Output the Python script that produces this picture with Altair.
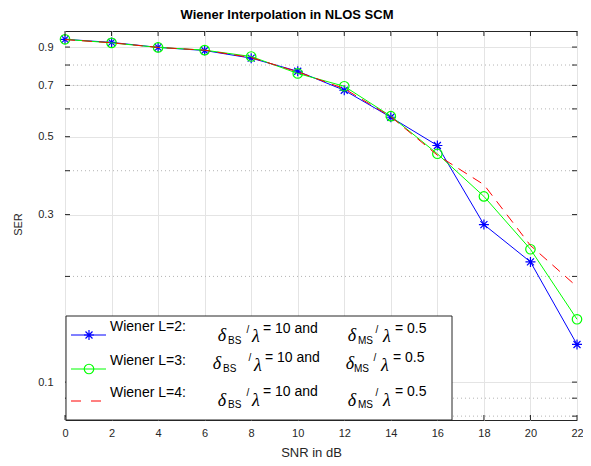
import altair as alt
import pandas as pd

# ---------------- data ----------------
snr = [0, 2, 4, 6, 8, 10, 12, 14, 16, 18, 20, 22]
ser_l2 = [0.947, 0.928, 0.898, 0.880, 0.837, 0.768, 0.678, 0.568, 0.472, 0.281, 0.220, 0.128]
ser_l3 = [0.947, 0.925, 0.898, 0.882, 0.846, 0.757, 0.696, 0.572, 0.447, 0.338, 0.239, 0.151]
ser_l4 = [0.945, 0.926, 0.898, 0.882, 0.840, 0.765, 0.685, 0.570, 0.443, 0.365, 0.245, 0.187]

x_ticks = [0, 2, 4, 6, 8, 10, 12, 14, 16, 18, 20, 22]
y_ticks = [0.1, 0.3, 0.5, 0.7, 0.9]
y_minor_grid = [0.08, 0.09, 0.2, 0.4, 0.6, 0.7, 0.8]
y_tick_marks = [0.08, 0.09, 0.1, 0.2, 0.3, 0.4, 0.5, 0.6, 0.7, 0.8, 0.9]

series_names = ["Wiener L=2:", "Wiener L=3:", "Wiener L=4:"]
title_text = "Wiener Interpolation in NLOS SCM"
x_title = "SNR in dB"
y_title = "SER"

# ---------------- layout ----------------
W, H = 512, 389          # plot area
X0, Y0 = 65, 31          # page position of plot area (incl. 8px page margin)
FONT = "Liberation Sans"
SERIF = "Liberation Serif"
AX = "#262626"

def px(x):
    return x - X0

def py(y):
    return y - Y0

xscale = alt.Scale(domain=[0, 22], nice=False, zero=False)
yscale = alt.Scale(type="log", domain=[0.078, 1.0], nice=False)

xaxis = alt.Axis(values=x_ticks, format="d", grid=True, gridColor="#e4e4e4", gridWidth=1,
                 ticks=False, domain=False, labelFont=FONT, labelFontSize=11, labelColor=AX,
                 labelPadding=7, labelFlush=False, title=x_title, titleFont=FONT,
                 titleFontSize=13, titleFontWeight="normal", titleColor=AX,
                 titleX=246, titleY=32, titleBaseline="middle", titleAlign="center")
yaxis = alt.Axis(values=y_ticks, format=".1f", grid=True, gridColor="#e4e4e4", gridWidth=1,
                 ticks=False, domain=False, labelFont=FONT, labelFontSize=11, labelColor=AX,
                 labelPadding=12, title=y_title, titleFont=FONT, titleFontSize=11,
                 titleFontWeight="normal", titleColor=AX, titleX=-47, titleY=193,
                 titleAngle=270, titleBaseline="middle", titleAlign="center")

def X(field="x"):
    return alt.X(f"{field}:Q", scale=xscale, axis=xaxis)

def Y(field="y"):
    return alt.Y(f"{field}:Q", scale=yscale, axis=yaxis)

STAR = "M0,-1L0,1M-1,0L1,0M-0.7,-0.7L0.7,0.7M-0.7,0.7L0.7,-0.7"

df2 = pd.DataFrame({"x": snr, "y": ser_l2})
df3 = pd.DataFrame({"x": snr, "y": ser_l3})
df4 = pd.DataFrame({"x": snr, "y": ser_l4})
one = pd.DataFrame({"a": [0]})

layers = []

# minor dotted grid
layers.append(
    alt.Chart(pd.DataFrame({"y": y_minor_grid})).mark_rule(
        color="#b4b4b4", strokeWidth=1, strokeDash=[1, 3]
    ).encode(y=Y(), x=alt.value(0), x2=alt.value(W))
)

# data series
layers.append(alt.Chart(df2).mark_line(color="#0000ff", strokeWidth=1).encode(x=X(), y=Y()))
layers.append(alt.Chart(df2).mark_point(shape=STAR, filled=False, size=100, strokeWidth=1.2,
                                        color="#0000ff", opacity=1).encode(x=X(), y=Y()))
layers.append(alt.Chart(df3).mark_line(color="#00ff00", strokeWidth=1).encode(x=X(), y=Y()))
layers.append(alt.Chart(df3).mark_point(shape="circle", filled=False, size=90, strokeWidth=1.2,
                                        color="#00ff00", opacity=1).encode(x=X(), y=Y()))
layers.append(alt.Chart(df4).mark_line(color="#ff0000", strokeWidth=1, strokeDash=[10, 7]).encode(x=X(), y=Y()))

# inward ticks on all four sides
layers.append(alt.Chart(pd.DataFrame({"x": x_ticks})).mark_rule(color=AX, strokeWidth=1)
              .encode(x=X(), y=alt.value(0), y2=alt.value(5)))
layers.append(alt.Chart(pd.DataFrame({"x": x_ticks})).mark_rule(color=AX, strokeWidth=1)
              .encode(x=X(), y=alt.value(H - 5), y2=alt.value(H)))
layers.append(alt.Chart(pd.DataFrame({"y": y_tick_marks})).mark_rule(color=AX, strokeWidth=1)
              .encode(y=Y(), x=alt.value(0), x2=alt.value(5)))
layers.append(alt.Chart(pd.DataFrame({"y": y_tick_marks})).mark_rule(color=AX, strokeWidth=1)
              .encode(y=Y(), x=alt.value(W - 5), x2=alt.value(W)))

# legend box
layers.append(alt.Chart(one).mark_rect(fill="white", stroke=AX, strokeWidth=1).encode(
    x=alt.value(px(66)), x2=alt.value(px(452)), y=alt.value(py(316)), y2=alt.value(py(420))))

def text(t, x, y, size=14, font=FONT, align="left", style="normal", weight="normal",
         color="#000000", baseline="middle"):
    return alt.Chart(one).mark_text(text=t, font=font, fontSize=size, align=align,
                                    baseline=baseline, fontStyle=style, fontWeight=weight,
                                    color=color).encode(x=alt.value(px(x)), y=alt.value(py(y)))

# legend samples
sample_y = [335, 369, 401]
layers.append(alt.Chart(one).mark_rule(color="#0000ff", strokeWidth=1).encode(
    x=alt.value(px(71)), x2=alt.value(px(106)), y=alt.value(py(sample_y[0]))))
layers.append(alt.Chart(one).mark_point(shape=STAR, filled=False, size=100, strokeWidth=1.2,
                                        color="#0000ff", opacity=1).encode(
    x=alt.value(px(89)), y=alt.value(py(sample_y[0]))))
layers.append(alt.Chart(one).mark_rule(color="#00ff00", strokeWidth=1).encode(
    x=alt.value(px(71)), x2=alt.value(px(106)), y=alt.value(py(sample_y[1]))))
layers.append(alt.Chart(one).mark_point(shape="circle", filled=False, size=90, strokeWidth=1.2,
                                        color="#00ff00", opacity=1).encode(
    x=alt.value(px(89)), y=alt.value(py(sample_y[1]))))
layers.append(alt.Chart(one).mark_rule(color="#ff0000", strokeWidth=1, strokeDash=[10, 10]).encode(
    x=alt.value(px(71)), x2=alt.value(px(106)), y=alt.value(py(sample_y[2]))))

# legend texts
wiener_y = [327, 361, 393]
rows = [
    # (eq_y, delta_y, sub_y, slash_y, lam_y, dx)
    (328.5, 336, 341, 330, 337, 0),
    (358, 364, 369, 358, 366, -4),
    (392, 401, 405, 393, 401, 0),
]
for i, (eq_y, d_y, s_y, sl_y, l_y, dx) in enumerate(rows):
    layers.append(text(series_names[i], 110, wiener_y[i]))
    dd = -5 if i == 1 else 0
    layers.append(text("δ", 222 + dd, d_y, size=18, font=SERIF, align="center", style="italic"))
    layers.append(text("BS", 228 + dd, s_y, size=10))
    layers.append(text("/", 248 + (2 if i == 1 else 0), sl_y, size=10, align="center"))
    layers.append(text("λ", 256 + (2 if i == 1 else 0), l_y, size=18, font=SERIF, align="center", style="italic"))
    layers.append(text("= 10 and", 263 + (2 if i == 1 else 0), eq_y))
    layers.append(text("δ", 352 + dx / 2, d_y, size=18, font=SERIF, align="center", style="italic"))
    layers.append(text("MS", 358 + dx, s_y, size=10))
    layers.append(text("/", 377 + dx / 2, sl_y, size=10, align="center"))
    layers.append(text("λ", 387 + dx / 2, l_y, size=18, font=SERIF, align="center", style="italic"))
    layers.append(text("= 0.5", 395 + dx / 2, eq_y))

# chart title
layers.append(text(title_text, 287, 18.5, size=13, align="center", weight="bold",
                   baseline="alphabetic"))

chart = alt.layer(*layers).properties(
    width=W, height=H,
    autosize=alt.AutoSizeParams(type="none"),
    padding={"left": X0 - 8, "top": Y0 - 8, "right": 6, "bottom": 38},
    background="white",
).configure_view(stroke=AX, strokeWidth=1)

chart.save("out.html", embed_options={"renderer": "svg", "actions": False})
